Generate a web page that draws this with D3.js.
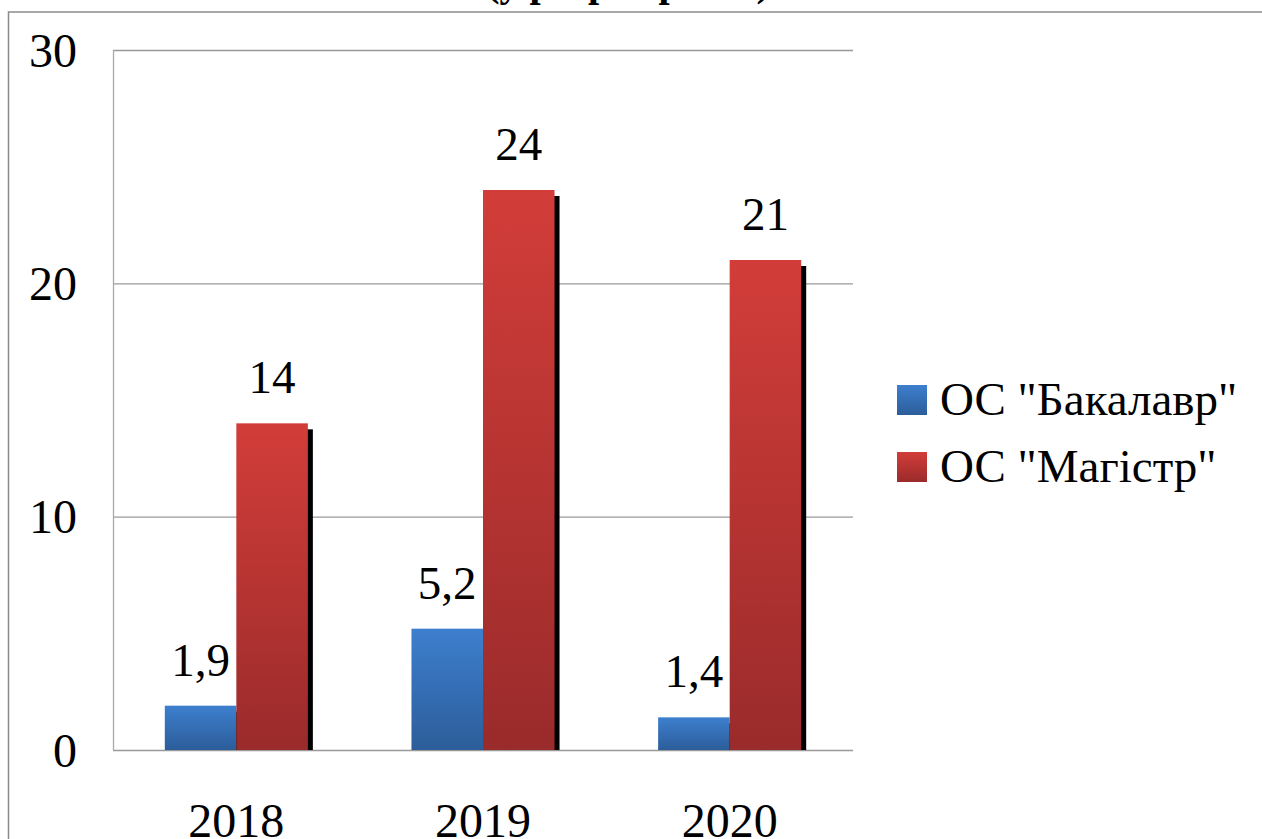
<!DOCTYPE html>
<html><head><meta charset="utf-8">
<script src="https://cdn.jsdelivr.net/npm/d3@7"></script>
<style>
html,body{margin:0;padding:0;background:#fff;font-family:"Liberation Serif";}
svg{display:block;font-family:"Liberation Serif";}
svg text{font-family:"Liberation Serif" !important;}
</style>
</head><body>
<script>
const categories = ["2018", "2019", "2020"];
const seriesNames = ['ОС "Бакалавр"', 'ОС "Магістр"'];
const bachelor = [1.9, 5.2, 1.4];
const master = [14, 24, 21];
const yTicks = [0, 10, 20, 30];
const titleText = "(у розрізі років)";

const W = 1262, H = 839;
const svg = d3.select("body").append("svg").attr("width", W).attr("height", H)
  .attr("font-family", "Liberation Serif");
const defs = svg.append("defs");
const grads = [
  {id: "gBlue", top: "#3d7fce", bot: "#2c5d9a"},
  {id: "gRed", top: "#d23d39", bot: "#9a2b2b"}
];
grads.forEach(g => {
  const lg = defs.append("linearGradient").attr("id", g.id).attr("x1", 0).attr("y1", 0).attr("x2", 0).attr("y2", 1);
  lg.append("stop").attr("offset", "0%").attr("stop-color", g.top);
  lg.append("stop").attr("offset", "100%").attr("stop-color", g.bot);
});

svg.append("rect").attr("x", 8.5).attr("y", 12).attr("width", 1300).attr("height", 900)
  .attr("fill", "none").attr("stroke", "#8a8a8a").attr("stroke-width", 1.5);

svg.append("text").attr("x", 628).attr("y", -4).attr("text-anchor", "middle")
  .attr("font-weight", "bold").attr("font-size", 40).text(titleText);

const plot = {left: 113, right: 853, top: 50, bottom: 750};
const x = d3.scaleBand().domain(categories).range([plot.left, plot.right]).paddingInner(0.42).paddingOuter(0.21);
const xs = d3.scaleBand().domain(seriesNames).range([0, x.bandwidth()]).padding(0);
const y = d3.scaleLinear().domain([0, 30]).range([plot.bottom, plot.top]);

svg.append("g").selectAll("line").data(yTicks).join("line")
  .attr("x1", plot.left).attr("x2", plot.right)
  .attr("y1", d => y(d) + 0.5).attr("y2", d => y(d) + 0.5)
  .attr("stroke", "#999").attr("stroke-width", 1.3);
svg.append("line").attr("x1", plot.left + 0.5).attr("x2", plot.left + 0.5)
  .attr("y1", plot.top).attr("y2", plot.bottom).attr("stroke", "#aaa").attr("stroke-width", 1.3);

const yAxis = d3.axisLeft(y).tickValues(yTicks).tickSize(0).tickPadding(0).tickFormat(d3.format("d"));
const ya = svg.append("g").attr("transform", `translate(77,0)`).call(yAxis);
ya.attr("font-family", "Liberation Serif").attr("font-size", 48);
ya.select(".domain").remove();
ya.selectAll("text").attr("fill", "#000").attr("dy", null).attr("y", 16).attr("x", 0);

const xAxis = d3.axisBottom(x).tickSize(0).tickPadding(0);
const xa = svg.append("g").attr("transform", `translate(0,837)`).call(xAxis);
xa.attr("font-family", "Liberation Serif").attr("font-size", 48);
xa.select(".domain").remove();
xa.selectAll("text").attr("fill", "#000").attr("dy", null).attr("y", 0);

const data = categories.map((c, i) => ({cat: c, vals: [
  {s: seriesNames[0], v: bachelor[i], g: "gBlue"},
  {s: seriesNames[1], v: master[i], g: "gRed"}
]}));

const clip = defs.append("clipPath").attr("id", "plotClip");
clip.append("rect").attr("x", plot.left).attr("y", 0).attr("width", plot.right - plot.left).attr("height", plot.bottom);

const groups = svg.append("g").attr("clip-path", "url(#plotClip)")
  .selectAll("g").data(data).join("g")
  .attr("transform", d => `translate(${x(d.cat)},0)`);
groups.selectAll("rect.sh").data(d => d.vals).join("rect").attr("class", "sh")
  .attr("x", d => xs(d.s) + 5).attr("y", d => y(d.v) + 6)
  .attr("width", xs.bandwidth()).attr("height", d => plot.bottom - y(d.v))
  .attr("fill", "#000");
groups.selectAll("rect.bar").data(d => d.vals).join("rect").attr("class", "bar")
  .attr("x", d => xs(d.s)).attr("y", d => y(d.v))
  .attr("width", xs.bandwidth()).attr("height", d => plot.bottom - y(d.v))
  .attr("fill", d => `url(#${d.g})`);

const fmt = v => String(v).replace(".", ",");
const lg = svg.append("g").selectAll("g").data(data).join("g")
  .attr("transform", d => `translate(${x(d.cat)},0)`);
lg.selectAll("text").data(d => d.vals).join("text")
  .attr("x", d => xs(d.s) + xs.bandwidth() / 2).attr("y", d => y(d.v) - 30)
  .attr("text-anchor", "middle").attr("font-size", 47)
  .attr("fill", "#000").text(d => fmt(d.v));

const leg = svg.append("g").selectAll("g").data(seriesNames).join("g")
  .attr("transform", (d, i) => `translate(897,${385 + i * 67})`);
leg.append("rect").attr("width", 30).attr("height", 30)
  .attr("fill", (d, i) => `url(#${grads[i].id})`);
leg.append("text").attr("x", 43).attr("y", 30).attr("font-size", 47)
  .attr("fill", "#000").text(d => d);

svg.selectAll("text").style("font-family", '"Liberation Serif"');
</script>
</body></html>
